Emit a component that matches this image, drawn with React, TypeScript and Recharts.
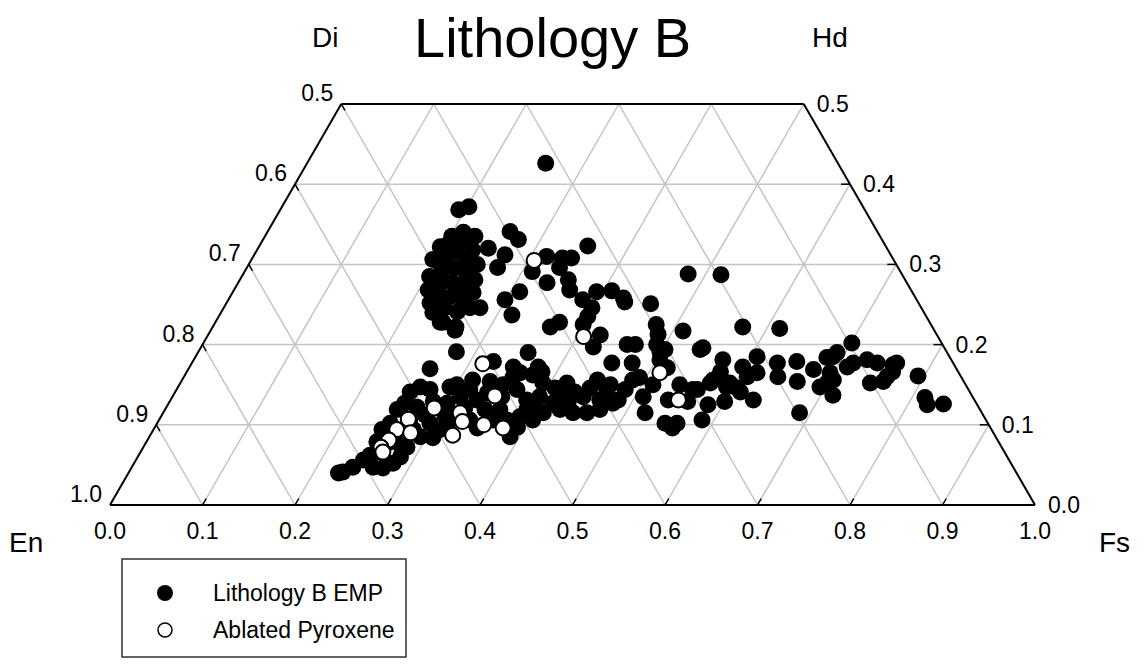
import React from 'react';
import { ScatterChart, Scatter, XAxis, YAxis, ReferenceLine } from 'recharts';

const W = 1128;
const H = 650;
const FONT = '"Liberation Sans", Arial, Helvetica, sans-serif';

const title = 'Lithology B';
const seriesNames = ['Lithology B EMP', 'Ablated Pyroxene'];

// bottom (En-Fs) scale, Wo scale on the side edges, grid steps
const baseTicks = [0, 0.1, 0.2, 0.3, 0.4, 0.5, 0.6, 0.7, 0.8, 0.9, 1];
const woTicks = [0, 0.1, 0.2, 0.3, 0.4, 0.5];
const gridSteps = [0.1, 0.2, 0.3, 0.4, 0.5, 0.6, 0.7, 0.8, 0.9];
const WO_MAX = 0.5;

// microprobe analyses, [Fs, Wo] mole fractions
const empPoints: [number, number][] = [
  [0.258, 0.426],
  [0.193, 0.368], [0.202, 0.372],
  [0.202, 0.335], [0.212, 0.34], [0.227, 0.335], [0.196, 0.322], [0.196, 0.306], [0.203, 0.285],
  [0.21, 0.268], [0.22, 0.252], [0.229, 0.24], [0.246, 0.228], [0.263, 0.222], [0.266, 0.246],
  [0.277, 0.246], [0.26, 0.265], [0.254, 0.281], [0.247, 0.3], [0.233, 0.318], [0.218, 0.331],
  [0.208, 0.308], [0.217, 0.316], [0.232, 0.308], [0.212, 0.293], [0.225, 0.296], [0.239, 0.291],
  [0.219, 0.276], [0.231, 0.278], [0.244, 0.275], [0.227, 0.261], [0.24, 0.261], [0.254, 0.256],
  [0.239, 0.246], [0.255, 0.241], [0.203, 0.325],
  [0.249, 0.32], [0.271, 0.312], [0.271, 0.296], [0.262, 0.341], [0.276, 0.331], [0.299, 0.256],
  [0.31, 0.266], [0.316, 0.237],
  [0.311, 0.291], [0.317, 0.31], [0.334, 0.277], [0.335, 0.308], [0.345, 0.308], [0.338, 0.296],
  [0.355, 0.281], [0.363, 0.268], [0.355, 0.323], [0.383, 0.256], [0.393, 0.266], [0.409, 0.267],
  [0.426, 0.258], [0.399, 0.235], [0.398, 0.246], [0.365, 0.222], [0.372, 0.228], [0.424, 0.212],
  [0.424, 0.197], [0.459, 0.251], [0.478, 0.225], [0.486, 0.213], [0.481, 0.288], [0.517, 0.287],
  [0.511, 0.217], [0.573, 0.222], [0.614, 0.22], [0.43, 0.253],
  [0.459, 0.2], [0.468, 0.2], [0.491, 0.2], [0.499, 0.191], [0.541, 0.194], [0.454, 0.177],
  [0.476, 0.177], [0.517, 0.171], [0.572, 0.181], [0.598, 0.172], [0.607, 0.185], [0.357, 0.19],
  [0.35, 0.172], [0.377, 0.172], [0.503, 0.194], [0.543, 0.196], [0.504, 0.181],
  [0.465, 0.144], [0.484, 0.131], [0.487, 0.156], [0.509, 0.135], [0.521, 0.115], [0.512, 0.15],
  [0.538, 0.131], [0.541, 0.15], [0.56, 0.129], [0.563, 0.144], [0.573, 0.152], [0.584, 0.125],
  [0.587, 0.106], [0.549, 0.102], [0.562, 0.102], [0.56, 0.096], [0.577, 0.166], [0.593, 0.147],
  [0.6, 0.129], [0.605, 0.146], [0.63, 0.131], [0.617, 0.165], [0.633, 0.177], [0.642, 0.16],
  [0.666, 0.154], [0.653, 0.179], [0.676, 0.169], [0.694, 0.147], [0.713, 0.137], [0.704, 0.156],
  [0.701, 0.202], [0.689, 0.185], [0.728, 0.181], [0.746, 0.152], [0.759, 0.154], [0.759, 0.175],
  [0.688, 0.115], [0.558, 0.144], [0.574, 0.156], [0.611, 0.141], [0.609, 0.16], [0.594, 0.152],
  [0.683, 0.184], [0.691, 0.19], [0.741, 0.177], [0.762, 0.177], [0.76, 0.16], [0.711, 0.172],
  [0.696, 0.165], [0.793, 0.161], [0.814, 0.134], [0.838, 0.126], [0.821, 0.125], [0.715, 0.177],
  [0.763, 0.166], [0.699, 0.152],
  [0.243, 0.228], [0.264, 0.218], [0.399, 0.225], [0.279, 0.191], [0.261, 0.17], [0.325, 0.179],
  [0.384, 0.166], [0.418, 0.152], [0.449, 0.156], [0.466, 0.15],
  [0.254, 0.141], [0.262, 0.147], [0.274, 0.144], [0.294, 0.147], [0.3, 0.15], [0.314, 0.156],
  [0.334, 0.154], [0.356, 0.159], [0.361, 0.165], [0.376, 0.162], [0.392, 0.152],
  [0.251, 0.119], [0.255, 0.127], [0.271, 0.122], [0.285, 0.129], [0.301, 0.127], [0.311, 0.135],
  [0.331, 0.131], [0.338, 0.14], [0.356, 0.135], [0.368, 0.144], [0.385, 0.131], [0.397, 0.135],
  [0.415, 0.127], [0.431, 0.129], [0.444, 0.135], [0.464, 0.131], [0.48, 0.127], [0.443, 0.115],
  [0.458, 0.115], [0.47, 0.119],
  [0.247, 0.094], [0.252, 0.102], [0.281, 0.094], [0.293, 0.085], [0.295, 0.102], [0.31, 0.094],
  [0.307, 0.084], [0.316, 0.097], [0.336, 0.106], [0.349, 0.096], [0.361, 0.106], [0.376, 0.106],
  [0.392, 0.097], [0.388, 0.11], [0.404, 0.106], [0.39, 0.085], [0.411, 0.115], [0.427, 0.119],
  [0.391, 0.119],
  [0.259, 0.066], [0.25, 0.062], [0.246, 0.056], [0.239, 0.047], [0.231, 0.041], [0.227, 0.04],
  [0.28, 0.052], [0.272, 0.046], [0.261, 0.047], [0.276, 0.075], [0.285, 0.072], [0.261, 0.077],
  [0.249, 0.079], [0.284, 0.06],
  [0.285, 0.112], [0.306, 0.112], [0.323, 0.121], [0.346, 0.119], [0.362, 0.119], [0.397, 0.125],
  [0.408, 0.146], [0.432, 0.141], [0.446, 0.146], [0.317, 0.144], [0.35, 0.15], [0.319, 0.109],
  [0.268, 0.081], [0.271, 0.106], [0.485, 0.144], [0.493, 0.159], [0.424, 0.137],
];

// laser-ablated grains, [Fs, Wo]
const ablatedPoints: [number, number][] = [
  [0.306, 0.305], [0.407, 0.21], [0.315, 0.176], [0.512, 0.165], [0.348, 0.136], [0.549, 0.131],
  [0.29, 0.121], [0.321, 0.115], [0.329, 0.104], [0.269, 0.107], [0.263, 0.094], [0.28, 0.09],
  [0.327, 0.087], [0.261, 0.081], [0.257, 0.072], [0.262, 0.066], [0.354, 0.1], [0.377, 0.096],
];

// ternary -> plot coords (x along En-Fs base, y = Wo)
const proj = (fs: number, wo: number) => ({ x: fs + wo / 2, y: wo });

const empData = empPoints.map(([fs, wo]) => proj(fs, wo));
const ablatedData = ablatedPoints.map(([fs, wo]) => proj(fs, wo));

type Seg = [{ x: number; y: number }, { x: number; y: number }];

const gridSegs: Seg[] = [
  ...woTicks.filter((w) => w > 0 && w < WO_MAX).map((w) => [proj(0, w), proj(1 - w, w)] as Seg),
  ...gridSteps.map((f) => {
    const top = Math.min(WO_MAX, 1 - f);
    return [proj(f, 0), proj(f, top)] as Seg;
  }),
  ...gridSteps.map((e) => {
    const top = Math.min(WO_MAX, 1 - e);
    return [proj(1 - e, 0), proj(1 - e - top, top)] as Seg;
  }),
];

const outlineSegs: Seg[] = [
  [proj(0, 0), proj(1, 0)],
  [proj(0, 0), proj(0, WO_MAX)],
  [proj(0, WO_MAX), proj(1 - WO_MAX, WO_MAX)],
  [proj(1 - WO_MAX, WO_MAX), proj(1, 0)],
];

const TK = 0.008;
const tickSegs: Seg[] = [
  ...gridSteps.map((f) => [proj(f, 0), proj(f, TK)] as Seg),
  ...woTicks.filter((w) => w > 0).map((w) => [proj(0, w), proj(TK, w - TK)] as Seg),
  ...woTicks.filter((w) => w < WO_MAX).map((w) => [proj(1 - w, w), proj(1 - w - 0.0097, w)] as Seg),
];

const leftLabels = woTicks.map((w) => ({ ...proj(0, w), label: (1 - w).toFixed(1) }));
const rightLabels = woTicks.map((w) => ({ ...proj(1 - w, w), label: w.toFixed(1) }));

const LeftLabel = (p: any) => (
  <text x={p.cx - 8} y={p.cy - 11} textAnchor="end" dominantBaseline="central" fontSize={23} fill="#000">
    {p.payload.label}
  </text>
);
const RightLabel = (p: any) => (
  <text x={p.cx + 13} y={p.cy} textAnchor="start" dominantBaseline="central" fontSize={23} fill="#000">
    {p.payload.label}
  </text>
);
const FilledDot = (p: any) => <circle cx={p.cx} cy={p.cy} r={8.5} fill="#000" />;
const OpenDot = (p: any) => <circle cx={p.cx} cy={p.cy} r={7.5} fill="#fff" stroke="#000" strokeWidth={2} />;

export default function App() {
  return (
    <div style={{ position: 'relative', width: W, height: H, fontFamily: FONT, background: '#fff' }}>
      <ScatterChart width={W} height={H} margin={{ top: 96, right: 101, bottom: 123, left: 102 }}>
        <XAxis
          type="number"
          dataKey="x"
          domain={[0, 1]}
          ticks={baseTicks}
          interval={0}
          tickFormatter={(v: number) => v.toFixed(1)}
          axisLine={false}
          tickLine={false}
          tickSize={0}
          tickMargin={18}
          height={30}
          tick={{ fontSize: 23, fill: '#000' }}
        />
        <YAxis type="number" dataKey="y" domain={[0, WO_MAX]} hide />
        {gridSegs.map((s, i) => (
          <ReferenceLine key={'g' + i} segment={s} stroke="#c4c4c4" strokeWidth={1.5} ifOverflow="visible" zIndex={-20} />
        ))}
        {outlineSegs.map((s, i) => (
          <ReferenceLine key={'o' + i} segment={s} stroke="#000" strokeWidth={2} ifOverflow="visible" zIndex={-10} />
        ))}
        {tickSegs.map((s, i) => (
          <ReferenceLine key={'t' + i} segment={s} stroke="#000" strokeWidth={1.5} ifOverflow="visible" zIndex={-10} />
        ))}
        <Scatter name={seriesNames[0]} data={empData} shape={FilledDot} isAnimationActive={false} />
        <Scatter name={seriesNames[1]} data={ablatedData} shape={OpenDot} isAnimationActive={false} />
        <Scatter data={leftLabels} shape={LeftLabel} isAnimationActive={false} />
        <Scatter data={rightLabels} shape={RightLabel} isAnimationActive={false} />
      </ScatterChart>
      {/* title, corner names and legend, in page coordinates */}
      <svg width={1144} height={666} style={{ position: 'absolute', left: -8, top: -8, pointerEvents: 'none' }}>
        <text x={414} y={57} fontSize={56} fill="#000">{title}</text>
        <text x={312} y={47} fontSize={28} fill="#000">Di</text>
        <text x={812} y={47} fontSize={28} fill="#000">Hd</text>
        <text x={9} y={552} fontSize={28} fill="#000">En</text>
        <text x={1099} y={552} fontSize={28} fill="#000">Fs</text>
        <rect x={122} y={559} width={284} height={98} fill="#fff" stroke="#333" strokeWidth={1.5} />
        <circle cx={165} cy={593} r={8} fill="#000" />
        <circle cx={165} cy={630} r={7} fill="#fff" stroke="#000" strokeWidth={1.5} />
        <text x={213} y={593} fontSize={23} dominantBaseline="central" fill="#000">{seriesNames[0]}</text>
        <text x={213} y={630} fontSize={23} dominantBaseline="central" fill="#000">{seriesNames[1]}</text>
      </svg>
    </div>
  );
}
